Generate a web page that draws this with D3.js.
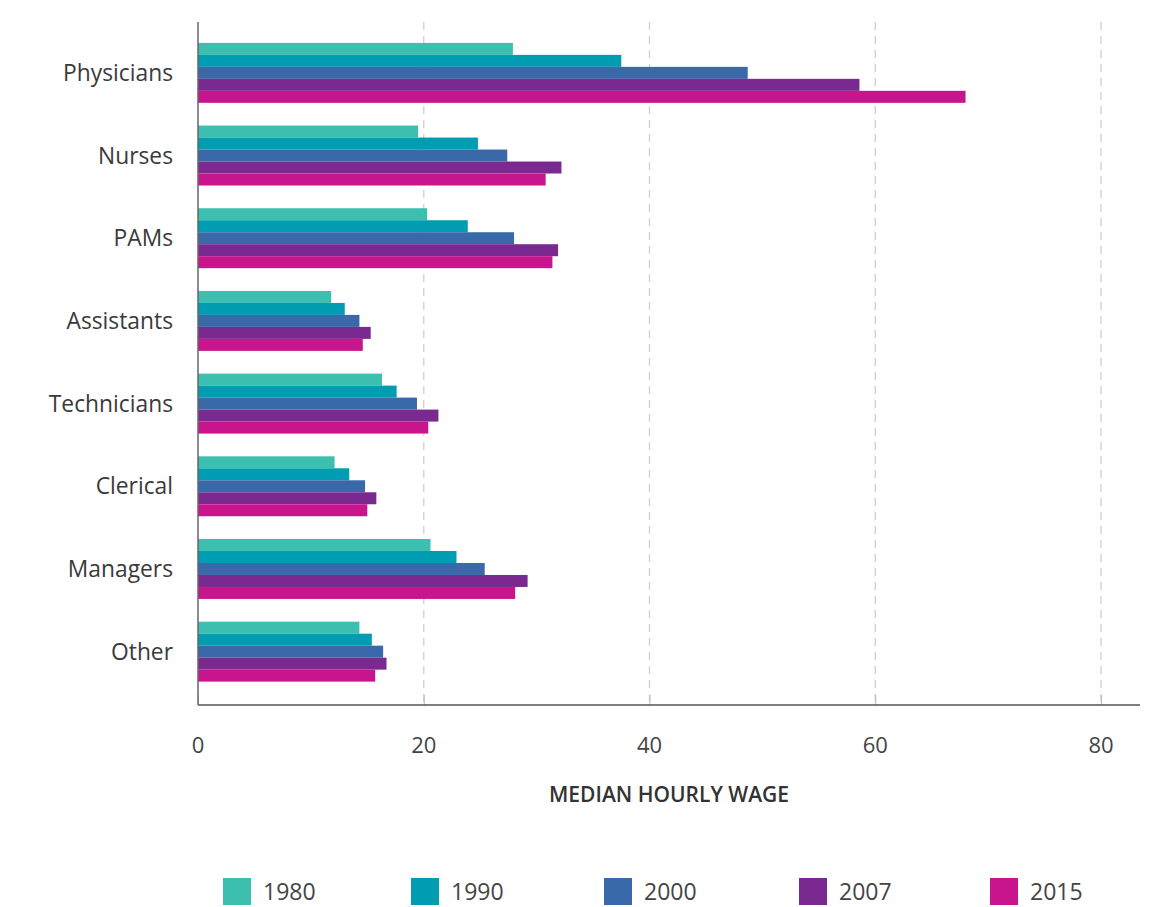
<!DOCTYPE html>
<html>
<head>
<meta charset="utf-8">
<script src="https://cdn.jsdelivr.net/npm/d3@7"></script>
<style>
  html, body { margin: 0; padding: 0; background: #fff; }
  svg { display: block; }
</style>
</head>
<body>
<svg id="chart" width="1172" height="907"></svg>
<script>
// Occupations and median hourly wage by survey year
const categories = ["Physicians", "Nurses", "PAMs", "Assistants", "Technicians", "Clerical", "Managers", "Other"];
const years = ["1980", "1990", "2000", "2007", "2015"];
const wages1980 = [27.9, 19.5, 20.3, 11.8, 16.3, 12.1, 20.6, 14.3];
const wages1990 = [37.5, 24.8, 23.9, 13.0, 17.6, 13.4, 22.9, 15.4];
const wages2000 = [48.7, 27.4, 28.0, 14.3, 19.4, 14.8, 25.4, 16.4];
const wages2007 = [58.6, 32.2, 31.9, 15.3, 21.3, 15.8, 29.2, 16.7];
const wages2015 = [68.0, 30.8, 31.4, 14.6, 20.4, 15.0, 28.1, 15.7];
const xTicks = [0, 20, 40, 60, 80];
const colors = ["#3dbfb0", "#009db2", "#3a69aa", "#7a2990", "#c9158d"];

const series = [wages1980, wages1990, wages2000, wages2007, wages2015];
const rows = categories.map((c, i) => ({
  category: c,
  values: years.map((y, j) => ({ year: y, value: series[j][i] }))
}));

const svg = d3.select("#chart");
const plotLeft = 198, plotRight = 1140, plotTop = 22, plotBottom = 705;
const font = "'Open Sans', Lato, sans-serif";

const x = d3.scaleLinear().domain([0, 80]).range([plotLeft, 1101]);
const y = d3.scaleBand().domain(categories).range([31.5, 693]).paddingInner(0.275).paddingOuter(0.1375);
const yInner = d3.scaleBand().domain(years).range([0, y.bandwidth()]);
const color = d3.scaleOrdinal().domain(years).range(colors);

// dashed gridlines
svg.append("g")
  .selectAll("line")
  .data(xTicks.filter(t => t > 0))
  .join("line")
  .attr("x1", d => x(d)).attr("x2", d => x(d))
  .attr("y1", plotTop).attr("y2", plotBottom)
  .attr("stroke", "#cfcfcf")
  .attr("stroke-width", 1.3)
  .attr("stroke-dasharray", "8,6");

// bars
const groups = svg.append("g")
  .selectAll("g")
  .data(rows)
  .join("g")
  .attr("transform", d => `translate(0,${y(d.category)})`);

groups.selectAll("rect")
  .data(d => d.values)
  .join("rect")
  .attr("x", x(0))
  .attr("y", d => yInner(d.year))
  .attr("width", d => x(d.value) - x(0))
  .attr("height", yInner.bandwidth())
  .attr("fill", d => color(d.year));

// bottom axis with inward ticks
const xAxis = svg.append("g")
  .attr("transform", `translate(0,${plotBottom})`)
  .call(d3.axisBottom(x).tickValues(xTicks).tickSize(0).tickPadding(0).tickFormat(""));
xAxis.select(".domain").remove();
xAxis.append("line")
  .attr("x1", plotLeft).attr("x2", plotRight)
  .attr("stroke", "#555").attr("stroke-width", 1.5);
xAxis.selectAll(".tick line")
  .attr("y2", -10).attr("stroke", "#bbb").attr("stroke-width", 1);

// tick labels
svg.append("g")
  .selectAll("text")
  .data(xTicks)
  .join("text")
  .attr("x", d => x(d))
  .attr("y", 753)
  .attr("text-anchor", "middle")
  .attr("font-family", font)
  .attr("font-size", 22)
  .attr("fill", "#444")
  .text(d => d);

// left axis line and category labels
svg.append("line")
  .attr("x1", plotLeft).attr("x2", plotLeft)
  .attr("y1", plotTop).attr("y2", plotBottom)
  .attr("stroke", "#666").attr("stroke-width", 1.5);

svg.append("g")
  .selectAll("text")
  .data(categories)
  .join("text")
  .attr("x", 173)
  .attr("y", d => y(d) + y.bandwidth() / 2)
  .attr("dy", "0.36em")
  .attr("text-anchor", "end")
  .attr("font-family", font)
  .attr("font-size", 22.8)
  .attr("fill", "#3a3a3a")
  .text(d => d);

// axis title
svg.append("text")
  .attr("x", 669)
  .attr("y", 802)
  .attr("text-anchor", "middle")
  .attr("font-family", font)
  .attr("font-weight", 600)
  .attr("font-size", 21)
  .attr("fill", "#333")
  .text("MEDIAN HOURLY WAGE");

// legend
const legendX = [223, 411, 604, 799, 990];
const legend = svg.append("g")
  .selectAll("g")
  .data(years)
  .join("g")
  .attr("transform", (d, i) => `translate(${legendX[i]},878)`);
legend.append("rect")
  .attr("width", 28).attr("height", 27)
  .attr("fill", d => color(d));
legend.append("text")
  .attr("x", 40).attr("y", 13.5)
  .attr("dy", "0.36em")
  .attr("font-family", font)
  .attr("font-size", 23)
  .attr("fill", "#444")
  .text(d => d);
</script>
</body>
</html>
